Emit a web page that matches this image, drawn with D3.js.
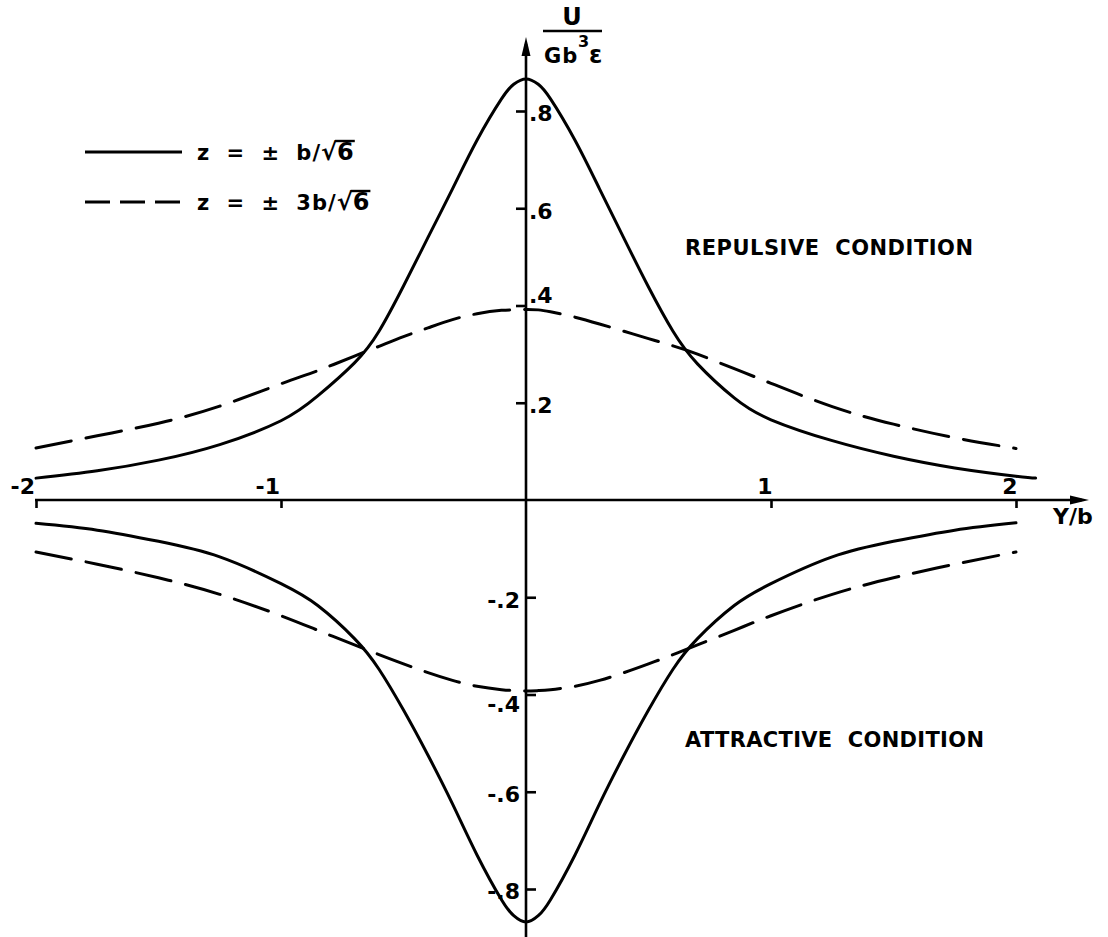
<!DOCTYPE html>
<html>
<head>
<meta charset="utf-8">
<script src="https://cdn.jsdelivr.net/npm/d3@7"></script>
<style>
  html, body { margin: 0; padding: 0; background: #fff; }
  svg { display: block; }
  text { font-family: "DejaVu Sans", "Liberation Sans", sans-serif; font-weight: bold; fill: #000; }
</style>
</head>
<body>
<svg id="chart" width="1108" height="937"></svg>
<script>
// Interaction energy U/(G b^3 ε) against Y/b for two values of z.
const yOverB = [-2.0, -1.75, -1.5, -1.25, -1.0, -0.85, -0.7, -0.6, -0.5, -0.4, -0.3, -0.2, -0.1, -0.05, 0,
                 0.05, 0.1, 0.2, 0.3, 0.4, 0.5, 0.6, 0.7, 0.85, 1.0, 1.25, 1.5, 1.75, 2.0, 2.08];

// z = ±b/√6
const solidRepulsive = [0.045, 0.06, 0.082, 0.114, 0.163, 0.214, 0.282, 0.347, 0.44, 0.54, 0.64, 0.74, 0.825, 0.855, 0.866,
                        0.855, 0.825, 0.74, 0.64, 0.538, 0.438, 0.347, 0.28, 0.21, 0.165, 0.122, 0.09, 0.066, 0.049, 0.045];
const solidAttractive = [-0.048, -0.062, -0.085, -0.117, -0.172, -0.217, -0.285, -0.348, -0.432, -0.525, -0.625, -0.73, -0.822, -0.855, -0.868,
                         -0.855, -0.822, -0.73, -0.625, -0.525, -0.432, -0.348, -0.285, -0.217, -0.172, -0.117, -0.085, -0.062, -0.047, null];

// z = ±3b/√6
const dashedRepulsive = [0.107, 0.132, 0.158, 0.193, 0.239, 0.266, 0.296, 0.316, 0.336, 0.354, 0.371, 0.383, 0.39, 0.391, 0.392,
                         0.391, 0.387, 0.376, 0.362, 0.347, 0.332, 0.317, 0.30, 0.27, 0.24, 0.192, 0.156, 0.128, 0.106, null];
const dashedAttractive = [-0.107, -0.132, -0.16, -0.194, -0.238, -0.268, -0.298, -0.318, -0.337, -0.355, -0.371, -0.383, -0.39, -0.392, -0.393,
                          -0.392, -0.39, -0.383, -0.371, -0.355, -0.337, -0.318, -0.298, -0.268, -0.238, -0.194, -0.16, -0.132, -0.107, null];

const xTicks = [-2, -1, 1, 2];
const yTicksPos = [0.2, 0.4, 0.6, 0.8];
const yTicksNeg = [-0.2, -0.4, -0.6, -0.8];

const legendLabels = [
  { pre: "z = ± ", mid: "b/", style: "solid" },
  { pre: "z = ± ", mid: "3b/", style: "dashed" }
];
const regionLabels = ["REPULSIVE CONDITION", "ATTRACTIVE CONDITION"];

const svg = d3.select("#chart");

const x = d3.scaleLinear().domain([-2, 2]).range([36, 1016]);
const y = d3.scaleLinear().domain([-0.8, 0.8]).range([889, 111]);

const x0 = x(0), y0 = y(0);
const axisStroke = 2.6;
const curveStroke = 3;
const dashPattern = "36,15";

// Axis lines with arrowheads
svg.append("line").attr("x1", x0).attr("x2", x0).attr("y1", 44).attr("y2", 937)
  .attr("stroke", "#000").attr("stroke-width", axisStroke);
svg.append("line").attr("x1", x(-2) - 1).attr("x2", 1082).attr("y1", y0).attr("y2", y0)
  .attr("stroke", "#000").attr("stroke-width", axisStroke);
svg.append("path").attr("d", `M${x0},37 L${x0 + 4.5},56 L${x0 - 4.5},56 Z`).attr("fill", "#000");
svg.append("path").attr("d", `M1089,${y0} L1070,${y0 - 4.5} L1070,${y0 + 4.5} Z`).attr("fill", "#000");

const minus = s => s.replace("\u2212", "-");

// X axis ticks (below the line) and labels (above)
const xAxis = d3.axisBottom(x).tickValues(xTicks).tickSizeInner(8).tickSizeOuter(0).tickFormat("");
const gx = svg.append("g").attr("transform", `translate(0,${y0})`).call(xAxis);
gx.select(".domain").remove();
gx.selectAll(".tick line").attr("stroke", "#000").attr("stroke-width", axisStroke);

svg.append("g").selectAll("text").data(xTicks).join("text")
  .attr("x", d => d < 0 ? x(d) - 1 : x(d) - 6)
  .attr("y", y0 - 6)
  .attr("text-anchor", d => d < 0 ? "end" : "middle")
  .attr("font-size", 22)
  .text(d => minus(d3.format("d")(d)));

// Y axis: positive ticks point left with labels on the right, negative the reverse
const fmt = d => minus(d3.format(".1f")(d)).replace("0.", ".");
const yRight = d3.axisRight(y).tickValues(yTicksPos).tickSizeInner(-10).tickSizeOuter(0).tickPadding(3).tickFormat(fmt);
const yLeft = d3.axisLeft(y).tickValues(yTicksNeg).tickSizeInner(-10).tickSizeOuter(0).tickPadding(6).tickFormat(fmt);
[yRight, yLeft].forEach(ax => {
  const g = svg.append("g").attr("transform", `translate(${x0},0)`).call(ax);
  g.select(".domain").remove();
  g.selectAll(".tick line").attr("stroke", "#000").attr("stroke-width", axisStroke);
  g.selectAll(".tick text")
    .attr("font-size", 22).attr("font-weight", "bold").attr("fill", "#000")
    .attr("font-family", "DejaVu Sans, Liberation Sans, sans-serif")
    .attr("dy", d => d === 0.4 ? "-0.15em" : d === -0.4 ? "0.75em" : "0.45em");
});

// Curves
const line = d3.line()
  .defined(d => d[1] !== null)
  .x(d => x(d[0]))
  .y(d => y(d[1]))
  .curve(d3.curveNatural);

const series = [
  { values: solidRepulsive, dash: null },
  { values: solidAttractive, dash: null },
  { values: dashedRepulsive, dash: dashPattern },
  { values: dashedAttractive, dash: dashPattern }
];
svg.append("g").selectAll("path").data(series).join("path")
  .attr("d", s => line(yOverB.map((v, i) => [v, s.values[i]])))
  .attr("fill", "none")
  .attr("stroke", "#000")
  .attr("stroke-width", curveStroke)
  .attr("stroke-linecap", "round")
  .attr("stroke-dasharray", s => s.dash);

// Legend
const legendY = [152, 202];
legendLabels.forEach((lg, i) => {
  const ly = legendY[i];
  svg.append("line").attr("x1", 85).attr("x2", 182).attr("y1", ly).attr("y2", ly)
    .attr("stroke", "#000").attr("stroke-width", curveStroke)
    .attr("stroke-dasharray", lg.style === "dashed" ? "25,10" : null);
  const t = svg.append("text").attr("x", 197).attr("y", ly + 8).attr("font-size", 21)
    .style("white-space", "pre");
  t.append("tspan").attr("letter-spacing", 5).text(lg.pre);
  t.append("tspan").attr("letter-spacing", 1).text(lg.mid);
  t.append("tspan").attr("font-size", 24).text("√6");
  const n = lg.pre.length + lg.mid.length;
  const root = t.node().getExtentOfChar(n);
  const six = t.node().getExtentOfChar(n + 1);
  svg.append("line")
    .attr("x1", root.x + root.width - 2).attr("x2", six.x + six.width + 1)
    .attr("y1", root.y + 3).attr("y2", root.y + 3)
    .attr("stroke", "#000").attr("stroke-width", 2.4);
});

// Y axis title: U over G b^3 ε
svg.append("text").attr("x", 572).attr("y", 25).attr("text-anchor", "middle").attr("font-size", 24).text("U");
svg.append("line").attr("x1", 543).attr("x2", 602).attr("y1", 31).attr("y2", 31)
  .attr("stroke", "#000").attr("stroke-width", 2.6);
svg.append("text").attr("x", 544).attr("y", 63).attr("font-size", 21).attr("letter-spacing", 1).text("Gb");
svg.append("text").attr("x", 578).attr("y", 47).attr("font-size", 16).text("3");
svg.append("text").attr("x", 589).attr("y", 63).attr("font-size", 24).text("ε");

// X axis title
svg.append("text").attr("x", 1053).attr("y", 524).attr("font-size", 22).text("Y/b");

// Region labels
svg.append("text").attr("x", 685).attr("y", 255).attr("font-size", 21)
  .attr("textLength", 288).attr("lengthAdjust", "spacing").style("white-space", "pre")
  .text(regionLabels[0].replace(" ", "  "));
svg.append("text").attr("x", 685).attr("y", 747).attr("font-size", 21)
  .attr("textLength", 299).attr("lengthAdjust", "spacing").style("white-space", "pre")
  .text(regionLabels[1].replace(" ", "  "));
</script>
</body>
</html>
